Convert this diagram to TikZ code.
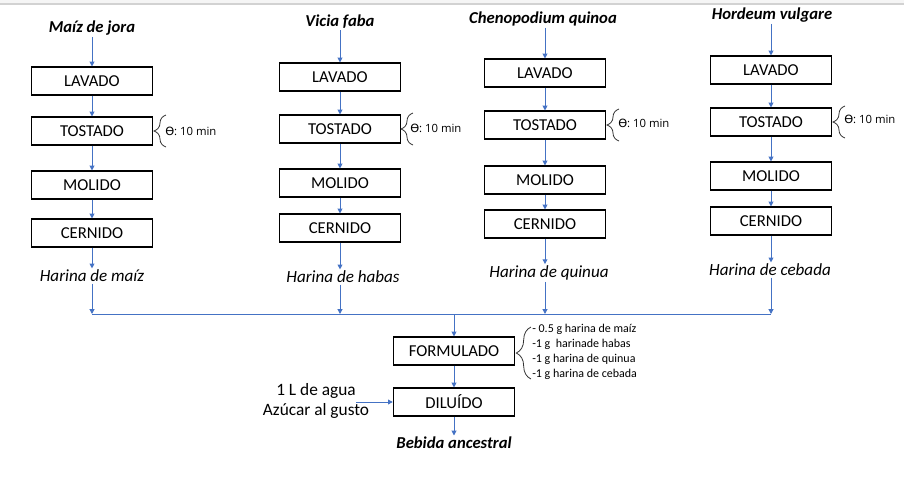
\documentclass[tikz,border=0pt]{standalone}
\usepackage{fontspec}
\setmainfont{Carlito}
\newfontfamily\tiempofont{Open Sans}
\newfontfamily\simbfont{DejaVu Sans}
\usetikzlibrary{arrows.meta, decorations.pathreplacing}
\definecolor{flujo}{RGB}{68,114,196}

\tikzset{
  caja/.style={draw, line width=0.8pt, minimum width=91pt, minimum height=21pt, inner sep=0pt, font=\fontsize{12.5}{15}\selectfont},
  titulo/.style={font=\fontsize{12.5}{15}\selectfont\bfseries\itshape, inner sep=1pt},
  harina/.style={font=\fontsize{12.8}{14}\selectfont\itshape, inner sep=1pt},
  flecha/.style={->, flujo, line width=0.75pt},
  llave/.style={decorate, decoration={brace, amplitude=#1}, line width=0.6pt, black!80},
  llave/.default=9pt,
  tiempo/.style={anchor=west, inner sep=0pt, font=\tiempofont\fontsize{8.5}{10}\selectfont},
}

\begin{document}
\begin{tikzpicture}[x=0.75pt, y=-0.75pt, >={Triangle[length=3.6pt, width=3.6pt]}]
    \useasboundingbox (0,0) rectangle (904,480);
    \fill[gray!8] (0,0) rectangle (904,4);
    \draw[gray!35, line width=1pt] (0,4) -- (904,4);

    % Maiz de jora
    \node[titulo] (t1) at (92,28) {Maíz de jora};
    \node[caja] (lav1) at (92,81) {LAVADO};
    \node[caja] (tos1) at (92,131) {TOSTADO};
    \node[caja] (mol1) at (92,185) {MOLIDO};
    \node[caja] (cer1) at (92,233) {CERNIDO};
    \node[harina] (h1) at (92,276) {Harina de maíz};
    \coordinate (b1) at (92,314);
    \draw[llave] (166,147) -- (166,115);
    \node[tiempo] (th1) at (165,131) {{\simbfont ϴ}: 10 min};

    % Vicia faba
    \node[titulo] (t2) at (340,22) {Vicia faba};
    \node[caja] (lav2) at (340,77) {LAVADO};
    \node[caja] (tos2) at (340,129) {TOSTADO};
    \node[caja] (mol2) at (340,183) {MOLIDO};
    \node[caja] (cer2) at (340,228) {CERNIDO};
    \node[harina] (h2) at (343,277) {Harina de habas};
    \coordinate (b2) at (340,314);
    \draw[llave] (413,145) -- (413,113);
    \node[tiempo] (th2) at (410,128) {{\simbfont ϴ}: 10 min};

    % Chenopodium quinoa
    \node[titulo] (t3) at (543,19) {Chenopodium quinoa};
    \node[caja] (lav3) at (545,73) {LAVADO};
    \node[caja] (tos3) at (545,125) {TOSTADO};
    \node[caja] (mol3) at (545,180) {MOLIDO};
    \node[caja] (cer3) at (545,224) {CERNIDO};
    \node[harina] (h3) at (549,273) {Harina de quinua};
    \coordinate (b3) at (545,314);
    \draw[llave] (619,141) -- (619,109);
    \node[tiempo] (th3) at (618,123) {{\simbfont ϴ}: 10 min};

    % Hordeum vulgare
    \node[titulo] (t4) at (772,15) {Hordeum vulgare};
    \node[caja] (lav4) at (771,70) {LAVADO};
    \node[caja] (tos4) at (771,122) {TOSTADO};
    \node[caja] (mol4) at (771,176) {MOLIDO};
    \node[caja] (cer4) at (771,221) {CERNIDO};
    \node[harina] (h4) at (770,270) {Harina de cebada};
    \coordinate (b4) at (771,314);
    \draw[llave] (845,138) -- (845,106);
    \node[tiempo] (th4) at (844,119) {{\simbfont ϴ}: 10 min};

    \draw[flecha] (t1) -- (lav1);
    \draw[flecha] (lav1) -- (tos1);
    \draw[flecha] (tos1) -- (mol1);
    \draw[flecha] (mol1) -- (cer1);
    \draw[flecha] (cer1) -- (h1);
    \draw[flecha] (h1) -- (b1);
    \draw[flecha] (t2) -- (lav2);
    \draw[flecha] (lav2) -- (tos2);
    \draw[flecha] (tos2) -- (mol2);
    \draw[flecha] (mol2) -- (cer2);
    \draw[flecha] (cer2) -- (h2.north -| cer2);
    \draw[flecha] (h2.south -| b2) -- (b2);
    \draw[flecha] (t3.south -| lav3) -- (lav3);
    \draw[flecha] (lav3) -- (tos3);
    \draw[flecha] (tos3) -- (mol3);
    \draw[flecha] (mol3) -- (cer3);
    \draw[flecha] (cer3) -- (h3.north -| cer3);
    \draw[flecha] (h3.south -| b3) -- (b3);
    \draw[flecha] (t4.south -| lav4) -- (lav4);
    \draw[flecha] (lav4) -- (tos4);
    \draw[flecha] (tos4) -- (mol4);
    \draw[flecha] (mol4) -- (cer4);
    \draw[flecha] (cer4) -- (h4.north -| cer4);
    \draw[flecha] (h4.south -| b4) -- (b4);

    % mezcla
    \draw[flujo, line width=0.75pt] (b1) -- (b4);
    \coordinate (bf) at (454,314);
    \node[caja] (form) at (454,351) {FORMULADO};
    \node[caja] (dil) at (454,402) {DILUÍDO};
    \node[titulo] (beb) at (454,443) {Bebida ancestral};
    \node[align=center, inner sep=0pt, font=\fontsize{13}{15}\selectfont] (agua) at (316,401) {1 L de agua\\Azúcar al gusto};
    \coordinate (ent) at (356,402);
    \draw[flecha] (bf) -- (form);
    \draw[flecha] (form) -- (dil);
    \draw[flecha] (dil) -- (beb);
    \draw[flecha] (ent) -- (dil);

    \draw[llave=11pt] (531,379) -- (531,327);
    \node[anchor=west, align=left, inner sep=0pt, font=\fontsize{9}{11.25}\selectfont] (lista) at (532,351.5)
      {- 0.5 g harina de maíz\\-1 g~~harinade habas\\-1 g harina de quinua\\-1 g harina de cebada};
\end{tikzpicture}
\end{document}
